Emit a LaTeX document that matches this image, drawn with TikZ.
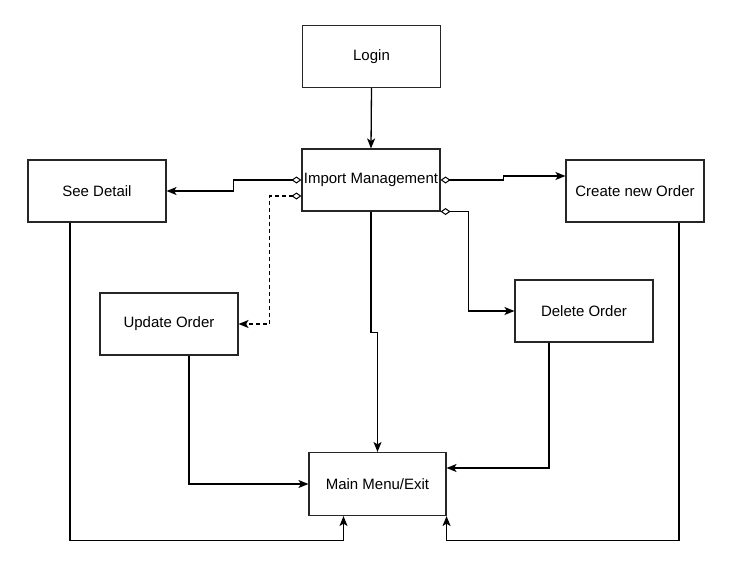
\documentclass[tikz,border=0pt]{standalone}
\usepackage{fontspec}
\setmainfont{Liberation Sans}
\usetikzlibrary{arrows.meta}
\begin{document}
\begin{tikzpicture}[x=1pt,y=-1pt,
  box/.style={draw=black!85,line width=1.1pt,minimum width=138pt,minimum height=62pt,inner sep=0pt,font=\fontsize{15}{18}\selectfont},
  conn/.style={draw=black,line width=1.3pt,-{Stealth[length=10pt,width=8pt,inset=2.5pt]}},
  agg/.style={conn,{Diamond[open,length=10pt,width=7pt,line width=1pt]}-{Stealth[length=10pt,width=8pt,inset=2.5pt]}},
  dsh/.style={dash pattern=on 4pt off 3pt}]
\useasboundingbox (0,0) rectangle (732,563);
\node[box] (login) at (371.5,56.5) {Login};
\node[box] (imp) at (371,180) {Import Management};
\node[box] (see) at (97,191) {See Detail};
\node[box] (cre) at (635,191) {Create new Order};
\node[box] (upd) at (169,324) {Update Order};
\node[box] (del) at (584,311) {Delete Order};
\node[box,minimum width=137pt,minimum height=63pt] (mm) at (377.5,484) {Main Menu/Exit};
\draw[conn] (login.south) -- (imp.north);
\draw[agg] (imp.west) -- ++(-68,0) |- (see.east);
\draw[agg,dsh] ([yshift=-16pt]imp.west) -- ++(-32,0) |- (upd.east);
\draw[agg] (imp.east) -- ++(63,0) |- ([yshift=15pt]cre.west);
\draw[agg] (imp.south east) -- ++(28,0) |- (del.west);
\draw[conn] (imp.south) -- ++(0,121) -| (mm.north);
\draw[conn] ([xshift=20pt]upd.south) |- (mm.west);
\draw[conn] ([xshift=-35pt]del.south) |- ([yshift=16pt]mm.east);
\draw[conn] ([xshift=-27pt]see.south) -- ++(0,318) -| ([xshift=-34pt]mm.south);
\draw[conn] ([xshift=44pt]cre.south) -- ++(0,318) -| (mm.south east);
\end{tikzpicture}
\end{document}
